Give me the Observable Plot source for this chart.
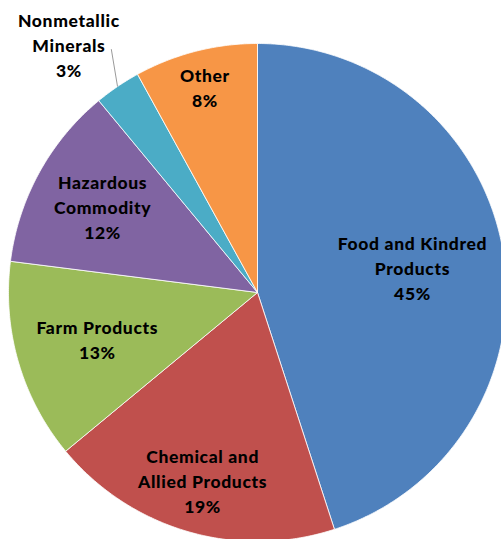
<!DOCTYPE html>
<html>
<head>
<meta charset="utf-8">
<script src="https://cdn.jsdelivr.net/npm/d3@7"></script>
<script src="https://cdn.jsdelivr.net/npm/@observablehq/plot@0.6"></script>
<style>
  html, body { margin: 0; padding: 0; background: #fff; }
  #chart svg { display: block; }
  #chart text { letter-spacing: 0.65px; }
</style>
</head>
<body>
<div id="chart"></div>
<script>
// ---- data ----
const categories = ["Food and Kindred Products", "Chemical and Allied Products", "Farm Products", "Hazardous Commodity", "Nonmetallic Minerals", "Other"];
const shares = [45, 19, 13, 12, 3, 8];
const labelLines = [["Food and Kindred", "Products"], ["Chemical and", "Allied Products"], ["Farm Products"], ["Hazardous", "Commodity"], ["Nonmetallic", "Minerals"], ["Other"]];

// ---- styling / layout ----
const colors = ["#4F81BD", "#C0504D", "#9BBB59", "#8064A2", "#4BACC6", "#F79646"];
const labelRadius = [0.63, 0.79, 0.67, 0.71, 1.25, 0.85]; // fraction of pie radius
const labelAngleShift = [0, 0, 0, 0, -3.1, 0];             // degrees
const outsideLabel = [false, false, false, false, true, false];

const W = 501, H = 539;
const cx = 257, cy = 292, R = 249;
const deg = Math.PI / 180;

const table = categories.map((c, i) => ({cat: c, share: shares[i], lines: labelLines[i], i}));
const arcs = d3.pie().sort(null).value(d => d.share)(table);

// polygon points for each slice (unit radius, y up)
const pts = [];
for (const a of arcs) {
  const n = Math.max(2, Math.ceil((a.endAngle - a.startAngle) / deg * 2));
  pts.push({cat: a.data.cat, x: 0, y: 0});
  for (let k = 0; k <= n; k++) {
    const t = a.startAngle + (a.endAngle - a.startAngle) * k / n;
    pts.push({cat: a.data.cat, x: Math.sin(t), y: Math.cos(t)});
  }
  pts.push({cat: a.data.cat, x: 0, y: 0});
}

const labels = arcs.map(a => {
  const mid = (a.startAngle + a.endAngle) / 2;
  const m = mid + labelAngleShift[a.data.i] * deg;
  const r = labelRadius[a.data.i];
  return {
    cat: a.data.cat,
    x: r * Math.sin(m),
    y: r * Math.cos(m),
    text: [...a.data.lines, Math.round(a.data.share) + "%"].join("\n"),
    mid,
    outside: outsideLabel[a.data.i]
  };
});

const leaders = labels.filter(d => d.outside).map(d => {
  const a2 = d.mid + 3.2 * deg;
  return {x1: Math.sin(d.mid), y1: Math.cos(d.mid), x2: 1.14 * Math.sin(a2), y2: 1.14 * Math.cos(a2)};
});

const chart = Plot.plot({
  width: W,
  height: H,
  margin: 0,
  x: {domain: [-cx / R, (W - cx) / R], range: [0, W], axis: null},
  y: {domain: [(cy - H) / R, cy / R], range: [H, 0], axis: null},
  color: {domain: categories, range: colors},
  style: {fontFamily: "Lato, 'Open Sans', sans-serif", background: "#fff"},
  marks: [
    Plot.line(pts, {x: "x", y: "y", z: "cat", fill: "cat", stroke: "#fff", strokeWidth: 1, strokeOpacity: 0.8}),
    Plot.link(leaders, {x1: "x1", y1: "y1", x2: "x2", y2: "y2", stroke: "#9a9a9a", strokeWidth: 1}),
    Plot.text(labels, {x: "x", y: "y", text: "text", fontSize: 17.5, fontWeight: 900, lineHeight: 1.43, fill: "#000", dy: -1})
  ]
});

document.getElementById("chart").appendChild(chart);
</script>
</body>
</html>
